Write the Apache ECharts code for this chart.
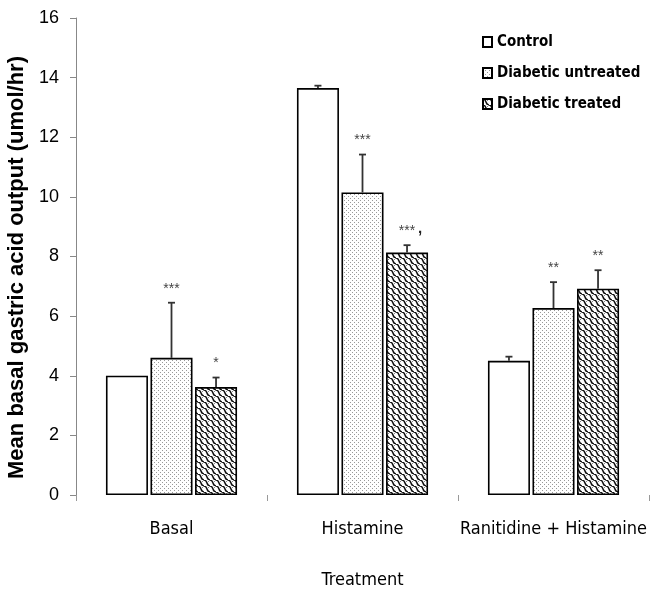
<!DOCTYPE html>
<html>
<head>
<meta charset="utf-8">
<script src="https://cdn.jsdelivr.net/npm/echarts@6/dist/echarts.min.js"></script>
<style>
  html, body { margin: 0; padding: 0; background: #ffffff; }
  #chart { width: 650px; height: 590px; }
</style>
</head>
<body>
<div id="chart"></div>
<script>
// Treatment groups along the x axis
const categories = ['Basal', 'Histamine', 'Ranitidine + Histamine'];

// Mean gastric acid output (umol/hr) per group
const controlMean = [4.0, 13.65, 4.5];
const untreatedMean = [4.6, 10.15, 6.27];
const treatedMean = [3.62, 8.13, 6.92];

// Upper error (SEM) per group
const controlErr = [0, 0.08, 0.14];
const untreatedErr = [1.85, 1.27, 0.87];
const treatedErr = [0.32, 0.25, 0.62];

// Significance marks drawn above the error bars
const controlSig = ['', '', ''];
const untreatedSig = ['***', '***', '**'];
const treatedSig = ['*', '***,', '**'];

const yTicks = [0, 2, 4, 6, 8, 10, 12, 14, 16];

const NARROW = '"DejaVu Sans Condensed", "Liberation Sans", sans-serif';
const SANS = '"Liberation Sans", Arial, sans-serif';

// Fill patterns
function makeStipple() {
  const c = document.createElement('canvas');
  c.width = 4; c.height = 4;
  const g = c.getContext('2d');
  g.fillStyle = '#ffffff';
  g.fillRect(0, 0, 4, 4);
  g.fillStyle = '#999999';
  g.fillRect(0, 0, 1, 1);
  g.fillRect(2, 2, 1, 1);
  return c;
}
function makeWaves() {
  const s = 6;
  const c = document.createElement('canvas');
  c.width = s; c.height = s;
  const g = c.getContext('2d');
  g.fillStyle = '#ffffff';
  g.fillRect(0, 0, s, s);
  g.strokeStyle = '#111111';
  g.lineWidth = 1.5;
  g.beginPath();
  g.moveTo(0, 0);
  g.bezierCurveTo(4, 0, 2, s, s, s);
  g.stroke();
  g.strokeStyle = '#666666';
  g.lineWidth = 0.8;
  g.beginPath();
  g.moveTo(s, 0);
  g.lineTo(s - 2, 2);
  g.stroke();
  return c;
}

const BAR_W = 0.22;   // fraction of the category band
const BAR_GAP = 0.06; // fraction of bar width
const N = 3;

const groups = [
  { name: 'Control', mean: controlMean, err: controlErr, sig: controlSig,
    fill: '#ffffff' },
  { name: 'Diabetic untreated', mean: untreatedMean, err: untreatedErr, sig: untreatedSig,
    fill: { image: makeStipple(), repeat: 'repeat' } },
  { name: 'Diabetic treated', mean: treatedMean, err: treatedErr, sig: treatedSig,
    fill: { image: makeWaves(), repeat: 'repeat' } }
];

const barSeries = groups.map(function (gr) {
  return {
    type: 'bar',
    name: gr.name,
    data: gr.mean,
    barWidth: (BAR_W * 100) + '%',
    barGap: (BAR_GAP * 100) + '%',
    itemStyle: { color: gr.fill, borderColor: '#000', borderWidth: 1.6 },
    emphasis: { disabled: true },
    z: 2
  };
});

const errSeries = groups.map(function (gr, gi) {
  return {
    type: 'custom',
    name: gr.name + ' error',
    data: gr.mean.map(function (m, i) { return [i, m, gr.err[i]]; }),
    encode: { x: 0, y: 1 },
    z: 3,
    silent: true,
    renderItem: function (params, api) {
      const ci = api.value(0);
      const m = api.value(1);
      const e = api.value(2);
      const band = api.size([1, 0])[0];
      const w = band * BAR_W;
      const total = N * w + (N - 1) * w * BAR_GAP;
      const off = -total / 2 + w / 2 + gi * w * (1 + BAR_GAP);
      const p0 = api.coord([ci, m]);
      const p1 = api.coord([ci, m + e]);
      const x = p0[0] + off;
      const children = [];
      if (e > 0) {
        children.push({
          type: 'line',
          shape: { x1: x, y1: p0[1], x2: x, y2: p1[1] },
          style: { stroke: '#333', lineWidth: 1.8 }
        });
        children.push({
          type: 'line',
          shape: { x1: x - 3.5, y1: p1[1], x2: x + 3.5, y2: p1[1] },
          style: { stroke: '#333', lineWidth: 1.8 }
        });
      }
      const mark = gr.sig[params.dataIndex];
      if (mark) {
        const stars = mark.replace(',', '');
        children.push({
          type: 'text',
          style: {
            text: stars, x: x, y: p1[1] - 7,
            align: 'center', verticalAlign: 'bottom',
            fill: '#444', font: '14px ' + SANS
          }
        });
        if (mark.indexOf(',') >= 0) {
          children.push({
            type: 'text',
            style: {
              text: ',', x: x + 13, y: p1[1] - 9,
              align: 'center', verticalAlign: 'bottom',
              fill: '#222', font: 'bold 15px ' + SANS
            }
          });
        }
      }
      return { type: 'group', children: children };
    }
  };
});

const chart = echarts.init(document.getElementById('chart'), null, { renderer: 'canvas' });
chart.setOption({
  animation: false,
  backgroundColor: '#ffffff',
  grid: { left: 76, right: 1, top: 18, bottom: 95, containLabel: false, outerBoundsMode: 'none' },
  legend: {
    data: groups.map(function (g) { return g.name; }),
    orient: 'vertical',
    left: 477,
    top: 28,
    itemGap: 13,
    itemWidth: 9,
    itemHeight: 10,
    icon: 'rect',
    selectedMode: false,
    textStyle: {
      fontFamily: NARROW,
      fontWeight: 'bold', fontSize: 15, color: '#000', lineHeight: 18
    }
  },
  xAxis: {
    type: 'category',
    data: categories,
    name: 'Treatment',
    nameLocation: 'middle',
    nameGap: 76,
    nameTextStyle: { fontFamily: NARROW, fontSize: 18, color: '#000' },
    axisLine: { show: false },
    axisTick: { show: true, length: 6, lineStyle: { color: '#999', width: 1 } },
    axisLabel: {
      interval: 0,
      margin: 25,
      fontFamily: NARROW,
      fontSize: 18, color: '#000'
    },
    splitLine: { show: false }
  },
  yAxis: {
    type: 'value',
    min: yTicks[0],
    max: yTicks[yTicks.length - 1],
    interval: yTicks[1] - yTicks[0],
    name: 'Mean basal gastric acid output (umol/hr)',
    nameLocation: 'middle',
    nameGap: 43,
    nameTextStyle: {
      fontFamily: SANS,
      fontWeight: 'bold', fontSize: 22, color: '#000',
      padding: [0, 22, 0, 0]
    },
    axisLine: { show: true, lineStyle: { color: '#888', width: 1 } },
    axisTick: { show: true, length: 6, lineStyle: { color: '#888' } },
    axisLabel: {
      margin: 17,
      fontFamily: SANS,
      fontSize: 18, color: '#000'
    },
    splitLine: { show: false }
  },
  series: barSeries.concat(errSeries)
});
</script>
</body>
</html>
